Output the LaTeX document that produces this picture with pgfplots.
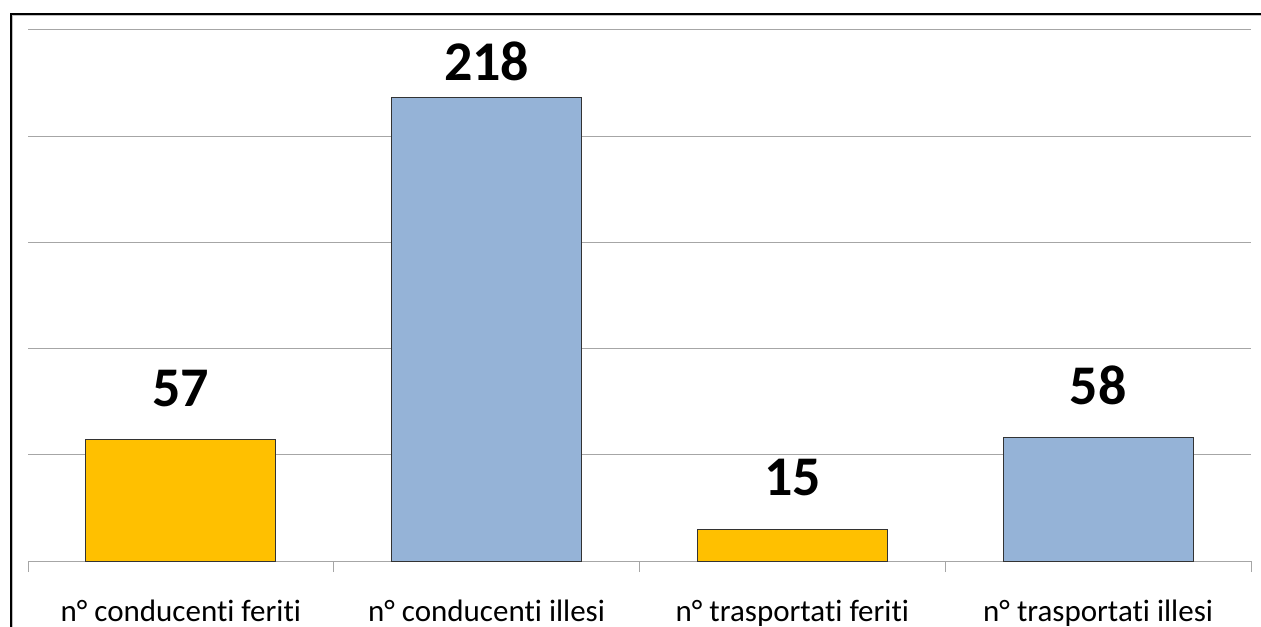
\documentclass[border=0pt]{standalone}
\usepackage{fontspec}
\setmainfont[Ligatures={NoCommon}]{Carlito}
\usepackage{pgfplots}
\usepackage{pgfplotstable}
\pgfplotsset{compat=1.18}
\definecolor{barorange}{HTML}{FFC000}
\definecolor{barblue}{HTML}{95B3D7}
\definecolor{gridgray}{HTML}{A6A6A6}

% x position, value, label offset (pt), label
\pgfplotstableread{
x y off lab
0 57 16.5 57
2 15 17 15
}\feriti
\pgfplotstableread{
x y off lab
1 218 8.5 218
3 58 16.5 58
}\illesi

\begin{document}
\begin{tikzpicture}
\clip (-14pt,-32.5pt) rectangle (616.5pt,280.5pt);
\begin{axis}[
  scale only axis,
  width=611.5pt, height=265.5pt,
  ymin=0, ymax=250,
  ytick={0,50,...,250}, yticklabels={},
  ymajorgrids, grid style={gridgray, line width=0.5pt},
  separate axis lines,
  axis x line*=bottom,
  x axis line style={gridgray, line width=0.5pt, -},
  y axis line style={draw=none},
  ytick style={draw=none},
  xmin=-0.5, xmax=3.5,
  xtick={0,1,2,3},
  xticklabels={n° conducenti feriti, n° conducenti illesi, n° trasportati feriti, n° trasportati illesi},
  xticklabel style={anchor=base, yshift=-26pt, font=\fontsize{15.5}{18}\selectfont},
  major x tick style={draw=none},
  extra x ticks={-0.5,0.5,1.5,2.5,3.5},
  extra x tick labels={},
  extra x tick style={tick align=outside, major tick length=5.5pt,
    major x tick style={draw=gridgray, line width=0.5pt}},
  ybar, bar width=95pt,
  nodes near coords,
  point meta=explicit symbolic,
  visualization depends on={\thisrow{off} \as \off},
  nodes near coords style={anchor=base, yshift=\off pt, text=black,
    font=\fontsize{28}{32}\selectfont\bfseries},
]
\addplot[bar shift=0pt, fill=barorange, draw=black!80, line width=0.5pt]
  table[x=x, y=y, meta=lab]{\feriti};
\addplot[bar shift=0pt, fill=barblue, draw=black!80, line width=0.5pt]
  table[x=x, y=y, meta=lab]{\illesi};
\end{axis}
% outer chart frame
\draw[gray!50, line width=0.5pt] (-8pt,-60pt) |- (640pt,272.5pt);
\draw[black, line width=1pt] (-8.75pt,-60pt) |- (640pt,273.25pt);
\end{tikzpicture}
\end{document}
